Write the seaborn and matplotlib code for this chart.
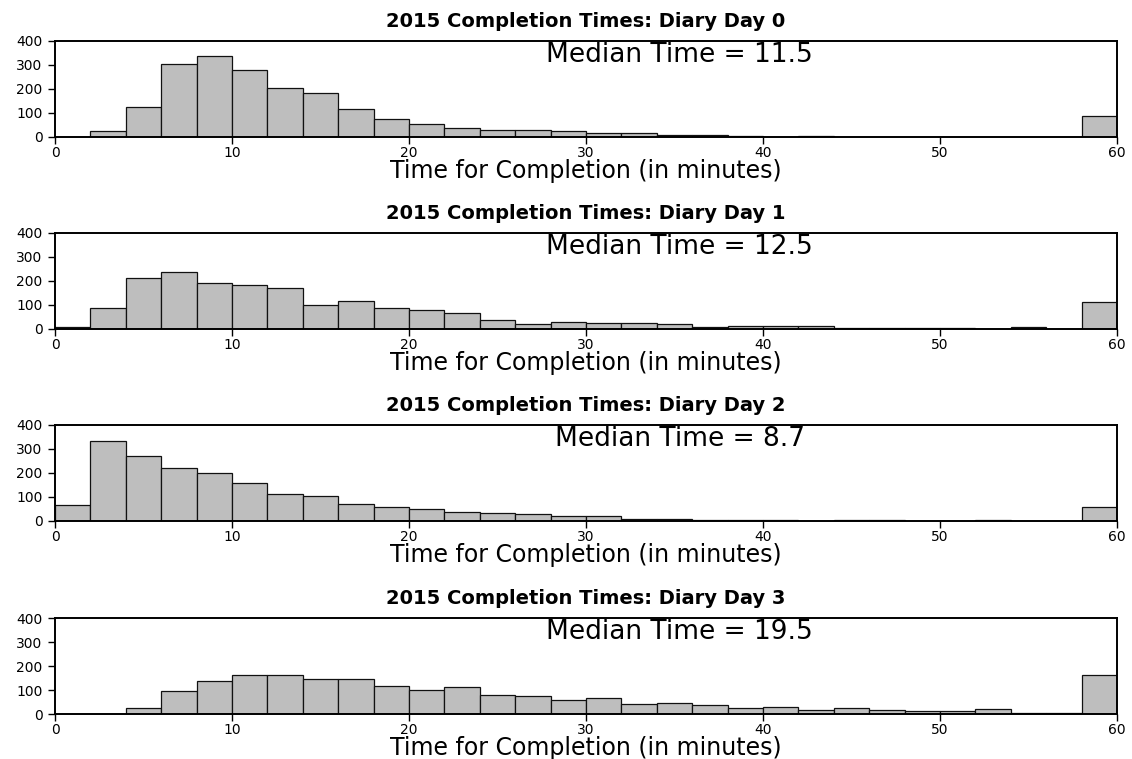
import numpy as np
import pandas as pd
import matplotlib
matplotlib.use("Agg")
import matplotlib.pyplot as plt
import seaborn as sns

# Counts per 2-minute bin, 0-60 minutes (last bin holds 58+ minutes)
bin_edges = list(range(0, 62, 2))
day0_counts = [1, 24, 125, 303, 339, 278, 204, 185, 115, 74, 56, 36, 28, 28, 24,
               15, 15, 7, 7, 6, 2, 3, 1, 1, 1, 1, 0, 0, 0, 89]
day1_counts = [7, 88, 214, 237, 190, 182, 172, 101, 115, 86, 78, 67, 39, 22, 28,
               24, 24, 19, 7, 14, 11, 11, 6, 6, 3, 3, 1, 7, 1, 114]
day2_counts = [68, 332, 269, 222, 199, 158, 111, 103, 69, 57, 49, 37, 32, 28, 19,
               19, 7, 7, 6, 6, 5, 1, 3, 3, 0, 2, 3, 0, 0, 57]
day3_counts = [0, 0, 25, 94, 136, 162, 161, 144, 144, 118, 101, 111, 81, 74, 57,
               68, 42, 44, 36, 25, 28, 15, 25, 17, 14, 14, 19, 6, 6, 161]
day_labels = ["Diary Day 0", "Diary Day 1", "Diary Day 2", "Diary Day 3"]
medians = [11.5, 12.5, 8.7, 19.5]
x_ticks = [0, 10, 20, 30, 40, 50, 60]
y_ticks = [0, 100, 200, 300, 400]

sns.set_theme(style="ticks")
plt.rcParams["font.family"] = ["DejaVu Sans"]

fig = plt.figure(figsize=(11.32, 7.59), dpi=100)
left, width, height = 55 / 1132, 1062 / 1132, 96 / 759
bottoms = [1 - 137 / 759, 1 - 329 / 759, 1 - 521 / 759, 1 - 714 / 759]

centers = [(a + b) / 2 for a, b in zip(bin_edges[:-1], bin_edges[1:])]
all_counts = [day0_counts, day1_counts, day2_counts, day3_counts]

for counts, label, med, bot in zip(all_counts, day_labels, medians, bottoms):
    ax = fig.add_axes([left, bot, width, height])
    df = pd.DataFrame({"minutes": centers, "count": counts})
    sns.histplot(data=df, x="minutes", weights="count", bins=bin_edges,
                 color="#bebebe", edgecolor="#111111", linewidth=0.9,
                 alpha=1.0, ax=ax)
    ax.set_xlim(0, 60)
    ax.set_ylim(0, 400)
    ax.set_xticks(x_ticks)
    ax.set_yticks(y_ticks)
    ax.tick_params(axis="both", labelsize=10, length=5, width=1,
                   color="black", labelcolor="black")
    ax.tick_params(axis="x", pad=1.5)
    ax.tick_params(axis="y", pad=4)
    for s in ax.spines.values():
        s.set_visible(True)
        s.set_color("black")
        s.set_linewidth(1.4)
    ax.set_ylabel("")
    ax.set_xlabel("Time for Completion (in minutes)", fontsize=17,
                  color="black", labelpad=-0.5)
    ax.set_title(f"2015 Completion Times: {label}", fontsize=14,
                 fontweight="bold", color="black", pad=10)
    ax.text(35.3, 0.78, f"Median Time = {med}", transform=ax.get_xaxis_transform(),
            ha="center", va="baseline", fontsize=19, color="black")

fig.savefig("out.png", dpi=100, facecolor="white")
